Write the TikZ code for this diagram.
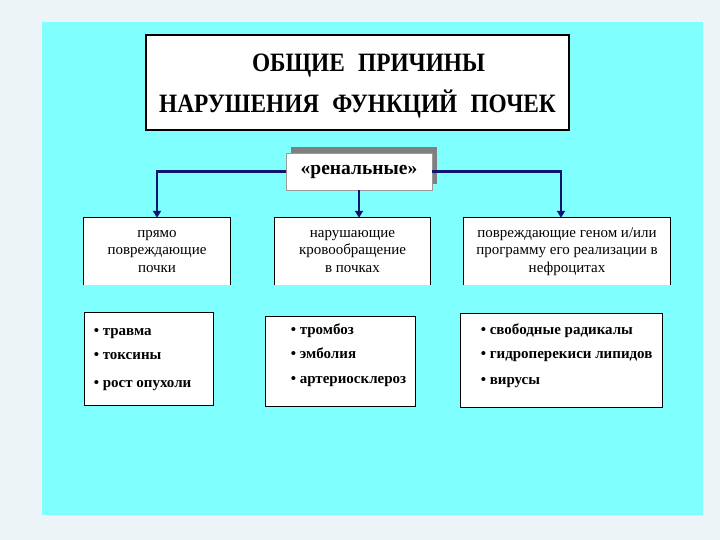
\documentclass[tikz,border=0pt]{standalone}
\usepackage{fontspec}
\setmainfont{Liberation Serif}
\newfontfamily\titlefont[FakeStretch=0.88]{Liberation Serif}
\usepackage{xcolor}
\usetikzlibrary{arrows.meta,positioning,shadows}
\definecolor{slidecyan}{RGB}{128,255,255}
\definecolor{pagebg}{RGB}{236,244,247}
\definecolor{linknavy}{RGB}{12,22,112}
\definecolor{shadowgray}{RGB}{128,128,128}
\tikzset{
  >=stealth,
  line join=round,
  titlebox/.style={draw, line width=1.1pt, fill=white, minimum width=423pt, minimum height=95pt},
  titletext/.style={align=center, font=\titlefont\bfseries\fontsize{26.5}{41}\selectfont},
  renalbox/.style={draw=black!40, line width=0.6pt, fill=white, minimum width=146pt, minimum height=37pt,
    font=\bfseries\fontsize{19.5}{22}\selectfont,
    drop shadow={shadow xshift=5pt, shadow yshift=6pt, fill=shadowgray, opacity=1}},
  groupbox/.style={fill=white, minimum height=67pt, align=center, font=\fontsize{15}{17.5}\selectfont},
  listbox/.style={draw, line width=0.8pt, fill=white},
  listtext/.style={anchor=west, align=left, font=\bfseries\fontsize{15}{18}\selectfont, inner sep=0pt},
  link/.style={draw=linknavy, line width=2.6pt, -{Triangle[width=8pt,length=7pt]}},
}
\begin{document}
\begin{tikzpicture}[x=1pt,y=-1pt]
	% page and slide area
	\useasboundingbox (0,0) rectangle (720,540);
	\fill[pagebg] (0,0) rectangle (720,540);
	\fill[slidecyan] (42,22) rectangle (703,515);

	% heading
	\node[titlebox] (title) at (357.5,82.5) {};
	\node[titletext] (titlewords) at ([yshift=-4pt]title.center)
		{\hspace*{22pt}ОБЩИЕ\enspace ПРИЧИНЫ\\
		 НАРУШЕНИЯ\enspace ФУНКЦИЙ\enspace ПОЧЕК};

	% branch node
	\node[renalbox] (renal) at (359,171.5) {«ренальные»};

	% second row
	\node[groupbox, minimum width=146pt] (direct) at (157,251.5) {прямо\\повреждающие\\почки};
	\node[groupbox, minimum width=155pt] (blood) at (352.5,251.5) {нарушающие\\кровообращение\\в почках};
	\node[groupbox, minimum width=206pt] (genome) at (567,251.5) {повреждающие геном и/или\\программу его реализации в\\нефроцитах};
	\draw[line width=0.8pt] (direct.south west) |- (direct.north east) -- (direct.south east);
	\draw[line width=0.8pt] (blood.south west) |- (blood.north east) -- (blood.south east);
	\draw[line width=0.8pt] (genome.south west) |- (genome.north east) -- (genome.south east);

	% connectors
	\draw[link] (renal.west) -| (direct.north);
	\draw[link] (renal.south) -- (renal.south |- blood.north);
	\draw[link] (renal.east) -| ([xshift=-6pt]genome.north);

	% third row
	\node[listbox, minimum width=129pt, minimum height=93pt] (trauma) at (148.5,358.5) {};
	\node[listbox, minimum width=150pt, minimum height=90pt] (vessel) at (340,361) {};
	\node[listbox, minimum width=202pt, minimum height=94pt] (radical) at (561,360) {};
	\node[listtext] (traumatext) at ([xshift=10pt,yshift=-1pt]trauma.west)
		{• травма\\[6pt]• токсины\\[10pt]• рост опухоли};
	\node[listtext] (vesseltext) at ([xshift=26pt,yshift=5.5pt]vessel.west)
		{• тромбоз\\[6pt]• эмболия\\[7pt]• артериосклероз};
	\node[listtext] (radicaltext) at ([xshift=21pt,yshift=4pt]radical.west)
		{• свободные радикалы\\[6pt]• гидроперекиси липидов\\[8pt]• вирусы};
\end{tikzpicture}
\end{document}
